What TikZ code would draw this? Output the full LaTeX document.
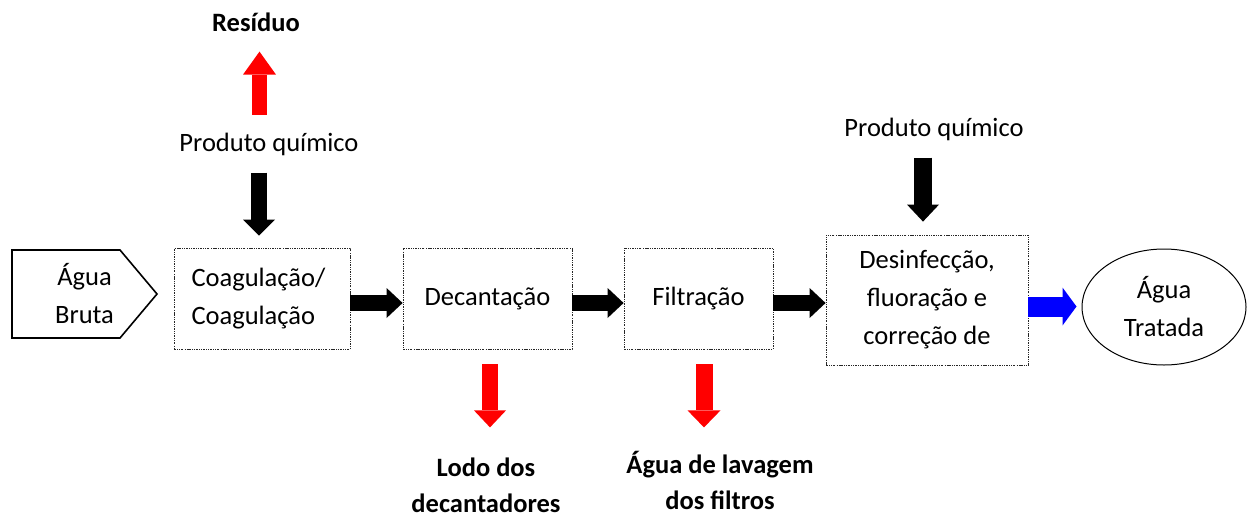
\documentclass[tikz,border=0pt]{standalone}
\usepackage{fontspec}
\setmainfont{Carlito}
\usetikzlibrary{arrows.meta,shapes.geometric,calc}
\begin{document}
\begin{tikzpicture}[x=1pt,y=-1pt,
  every node/.style={font=\fontsize{26.5}{38}\selectfont, align=center, inner sep=0pt},
  lbl/.style={font=\fontsize{26.5}{36}\selectfont\bfseries},
  proc/.style={draw=black!85, line width=0.8pt, dash pattern=on 2.2pt off 1.2pt on 0.7pt off 1.2pt on 0.7pt off 1.2pt},
  blockarr/.style n args={4}{line width=#1, draw=#4, -{Triangle[width=#2,length=#3,line width=0pt]}},
]
\useasboundingbox (0,0) rectangle (1248,517);

\node (bruta) at (84.5,294) {Água\\Bruta};
\draw[line width=1.6pt, line join=miter]
  ($(bruta.center)+(-72.5,-44)$) -- ($(bruta.center)+(35.5,-44)$) -- ($(bruta.center)+(72.5,0)$)
  -- ($(bruta.center)+(35.5,44)$) -- ($(bruta.center)+(-72.5,44)$) -- cycle;

\node[proc, minimum width=176pt, minimum height=101pt, text width=141pt, align=left] (coag) at (262,298.5) {Coagulação/\\Coagulação};
\node[proc, minimum width=169pt, minimum height=101pt] (decant) at (487.5,298.5) {Decantação};
\node[proc, minimum width=149pt, minimum height=101pt] (filt) at (698.5,298.5) {Filtração};
\node[proc, minimum width=202pt, minimum height=130pt] (desinf) at (927,300) {Desinfecção,\\fluoração e\\correção de};
\node[draw, ellipse, line width=1pt, minimum width=164pt, minimum height=116pt] (trat) at (1164,307) {Água\\Tratada};

\node[lbl] (res) at (256,22) {Resíduo};
\node (pq1) at (269,144) {Produto químico};
\node (pq2) at (934,129) {Produto químico};
\node[lbl] (lodo) at (486,485) {Lodo dos\\decantadores};
\node[lbl] (lav) at (720,480) {Água de lavagem\\dos filtros};

% vertical arrows
\draw[blockarr={15pt}{33pt}{23pt}{red}] ([xshift=-2.5pt,yshift=133pt]coag.north) -- ([xshift=-2.5pt,yshift=196pt]coag.north);
\draw[blockarr={16pt}{32pt}{16pt}{black}] ([xshift=-3pt,yshift=75pt]coag.north) -- ([xshift=-3pt,yshift=12pt]coag.north);
\draw[blockarr={16pt}{32pt}{17pt}{red}] ([xshift=2.5pt,yshift=-15pt]decant.south) -- ([xshift=2.5pt,yshift=-78pt]decant.south);
\draw[blockarr={17pt}{33pt}{17pt}{red}] ([xshift=5.5pt,yshift=-15pt]filt.south) -- ([xshift=5.5pt,yshift=-78pt]filt.south);
\draw[blockarr={18pt}{32pt}{17pt}{black}] ([xshift=-4pt,yshift=77pt]desinf.north) -- ([xshift=-4pt,yshift=13pt]desinf.north);

% horizontal arrows
\draw[blockarr={16pt}{30pt}{16pt}{black}] ([yshift=-4.5pt]coag.east) -- ([yshift=-4.5pt]coag.east -| decant.west);
\draw[blockarr={16pt}{30pt}{16pt}{black}] ([yshift=-4.5pt]decant.east) -- ([yshift=-4.5pt]decant.east -| filt.west);
\draw[blockarr={16pt}{30pt}{16pt}{black}] ([yshift=-4.5pt]filt.east) -- ([yshift=-4.5pt]filt.east -| desinf.west);
\draw[blockarr={20pt}{38pt}{14pt}{blue}, shorten >=5pt] ([yshift=-6.5pt]desinf.east) -- ([yshift=-6.5pt]desinf.east -| trat.west);
\end{tikzpicture}
\end{document}
